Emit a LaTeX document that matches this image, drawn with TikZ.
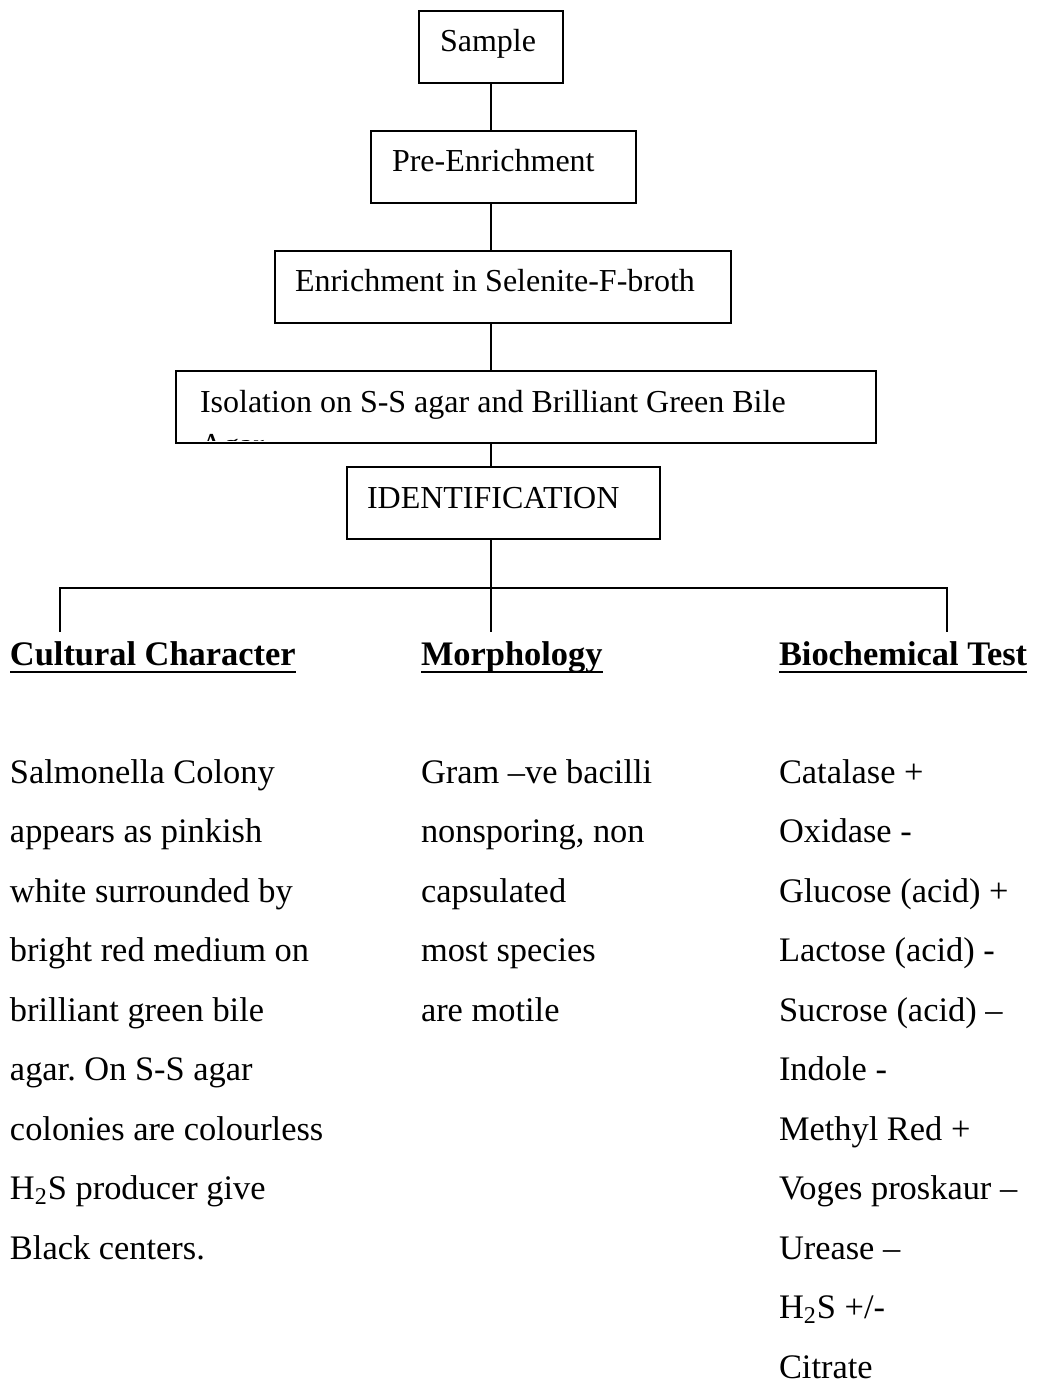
\documentclass[tikz,border=0pt]{standalone}
\usepackage{fontspec}
\setmainfont{Liberation Serif}
\usepackage{tikz}
\usetikzlibrary{calc, positioning}
\frenchspacing

\begin{document}
\begin{tikzpicture}[x=0.5pt, y=-0.5pt, line width=0.8pt,
        every node/.style={inner sep=0pt, outer sep=0pt},
        stagebox/.style={draw, line width=0.9pt, minimum height=36pt},
        stagetext/.style={anchor=base west, font=\fontsize{16}{21}\selectfont},
        colhead/.style={anchor=base west, font=\fontsize{17.2}{30}\selectfont\bfseries},
        coltext/.style={anchor=base west, font=\fontsize{17.2}{30}\selectfont}]
    \useasboundingbox (0,0) rectangle (1037,1385);

    \node[stagebox, minimum width=72pt] (sample) at (491,47) {};
    \node[stagebox, minimum width=132.5pt] (preenrich) at (503.5,167) {};
    \node[stagebox, minimum width=228pt] (enrich) at (503,287) {};
    \node[stagebox, minimum width=350pt] (isolate) at (526,407) {};
    \node[stagebox, minimum width=156.5pt] (ident) at (503.5,503) {};

    \node[stagetext] (sample-t) at ($(sample.north west)+(21,41)$) {Sample};
    \node[stagetext] (preenrich-t) at ($(preenrich.north west)+(21,41)$) {Pre-Enrichment};
    \node[stagetext] (enrich-t) at ($(enrich.north west)+(20,41)$) {Enrichment in Selenite-F-broth};
    \node[stagetext] (isolate-t) at ($(isolate.north west)+(24,41)$) {Isolation on S-S agar and Brilliant Green Bile};
    \begin{scope}
        \clip (isolate.north west) rectangle ($(isolate.south east)+(0,-3)$);
        \node[stagetext] (isolate-t2) at ($(isolate.north west)+(24,84)$) {Agar};
    \end{scope}
    \node[stagetext] (ident-t) at ($(ident.north west)+(20,41)$) {IDENTIFICATION};

    \draw (sample.south) -- (sample.south |- preenrich.north);
    \draw (sample.south |- preenrich.south) -- (sample.south |- enrich.north);
    \draw (sample.south |- enrich.south) -- (sample.south |- isolate.north);
    \draw (sample.south |- isolate.south) -- (sample.south |- ident.north);

    \node[colhead] (cultural) at (10,665) {Cultural Character};
    \node[colhead] (morph) at (421,665) {Morphology};
    \node[colhead] (biochem) at (779,665) {Biochemical Test};
    \foreach \h in {cultural,morph,biochem}
        \draw[line width=1pt] ($(\h.base west)+(0,7)$) -- ($(\h.base east)+(0,7)$);

    \coordinate (branch-l) at (60,588);
    \coordinate (branch-r) at (947,588);
    \coordinate (drop-l) at (60,632);
    \coordinate (drop-r) at (947,632);
    \draw (sample.south |- ident.south) -- (sample.south |- drop-l);
    \draw (drop-l) -- (branch-l) -- (branch-r) -- (drop-r);

    \foreach \t [count=\i from 0] in {Salmonella Colony, appears as pinkish,
            white surrounded by, bright red medium on, brilliant green bile,
            agar. On S-S agar, colonies are colourless,
            H\textsubscript{2}S producer give, Black centers.}
        \node[coltext] (cultural-\i) at (10,783+59.5*\i) {\t};

    \foreach \t [count=\i from 0] in {Gram –ve bacilli, {nonsporing, non},
            capsulated, most species, are motile}
        \node[coltext] (morph-\i) at (421,783+59.5*\i) {\t};

    \foreach \t [count=\i from 0] in {Catalase +, Oxidase -, Glucose (acid) +,
            Lactose (acid) -, Sucrose (acid) –, Indole -, Methyl Red +,
            Voges proskaur –, Urease –, H\textsubscript{2}S +/-, Citrate}
        \node[coltext] (biochem-\i) at (779,783+59.5*\i) {\t};
\end{tikzpicture}
\end{document}
